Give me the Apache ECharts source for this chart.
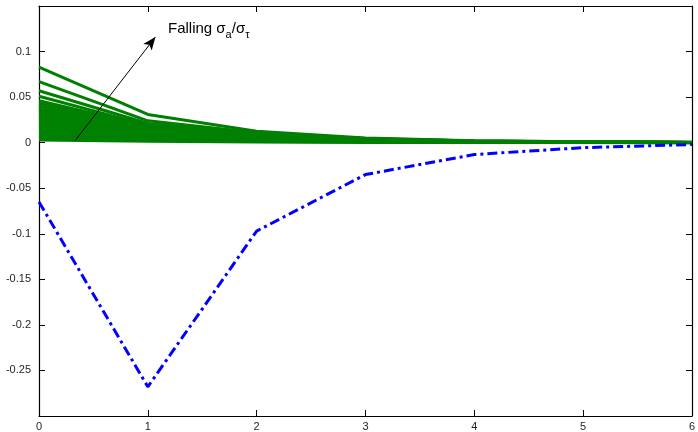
<!DOCTYPE html>
<html lang="en">
<head>
    <meta charset="UTF-8">
    <title>Impulse responses</title>
    <script src="https://cdn.jsdelivr.net/npm/echarts@6/dist/echarts.min.js"></script>
    <style>
        html, body { margin: 0; padding: 0; background: #fff; }
        #chart { width: 698px; height: 432px; }
    </style>
</head>
<body>
<div id="chart"></div>
<script>
    // horizon (x axis)
    var horizon = [0, 1, 2, 3, 4, 5, 6];

    // blue dash-dot response
    var blueValues = [-0.065, -0.268, -0.097, -0.035, -0.013, -0.0055, -0.002];

    // green family of responses, one row per sigma_a / sigma_tau value
    var greenValues = [
        [0.083, 0.031, 0.0125, 0.0050, 0.0020, 0.0010, 0.0004],
        [0.067, 0.024, 0.0110, 0.0045, 0.0019, 0.0009, 0.0004],
        [0.057, 0.021, 0.0100, 0.0042, 0.0018, 0.0008, 0.0003],
        [0.051, 0.019, 0.0093, 0.0040, 0.0017, 0.0008, 0.0003],
        [0.046, 0.018, 0.0088, 0.0038, 0.0016, 0.0007, 0.0003],
        [0.043, 0.017, 0.0084, 0.0036, 0.0015, 0.0007, 0.0003],
        [0.040, 0.016, 0.0080, 0.0034, 0.0014, 0.0006, 0.0003],
        [0.037, 0.015, 0.0076, 0.0032, 0.0014, 0.0006, 0.0003],
        [0.035, 0.014, 0.0072, 0.0031, 0.0013, 0.0006, 0.0002],
        [0.033, 0.013, 0.0068, 0.0030, 0.0013, 0.0005, 0.0002],
        [0.031, 0.0125, 0.0064, 0.0028, 0.0012, 0.0005, 0.0002],
        [0.029, 0.012, 0.0060, 0.0027, 0.0011, 0.0005, 0.0002],
        [0.027, 0.011, 0.0056, 0.0025, 0.0011, 0.0005, 0.0002],
        [0.025, 0.010, 0.0052, 0.0023, 0.0010, 0.0004, 0.0002],
        [0.023, 0.0095, 0.0048, 0.0021, 0.0009, 0.0004, 0.0002],
        [0.021, 0.0088, 0.0044, 0.0019, 0.0008, 0.0004, 0.0002],
        [0.019, 0.0080, 0.0040, 0.0017, 0.0008, 0.0003, 0.0001],
        [0.017, 0.0072, 0.0036, 0.0016, 0.0007, 0.0003, 0.0001],
        [0.015, 0.0064, 0.0032, 0.0014, 0.0006, 0.0003, 0.0001],
        [0.013, 0.0056, 0.0028, 0.0012, 0.0005, 0.0002, 0.0001],
        [0.011, 0.0048, 0.0024, 0.0010, 0.0005, 0.0002, 0.0001],
        [0.009, 0.0040, 0.0020, 0.0009, 0.0004, 0.0002, 0.0001],
        [0.007, 0.0032, 0.0016, 0.0007, 0.0003, 0.0001, 0.0001],
        [0.005, 0.0024, 0.0012, 0.0005, 0.0002, 0.0001, 0.0000],
        [0.003, 0.0016, 0.0008, 0.0004, 0.0002, 0.0001, 0.0000]
    ];

    // arrow annotation: start and end in data units
    var arrowStart = [0.33, 0.002];
    var arrowEnd = [1.07, 0.116];

    var yMin = -0.3, yMax = 0.15, yStep = 0.05;
    var fontName = 'Liberation Sans';

    function pairs(values) {
        return horizon.map(function (x, i) { return [x, values[i]]; });
    }

    function yLabel(v) {
        if (Math.abs(v - yMax) < 1e-9 || Math.abs(v - yMin) < 1e-9) return '';
        var r = Math.round(v * 100) / 100;
        return String(r);
    }

    var tickStyle = { show: true, inside: true, length: 6, lineStyle: { color: '#000', width: 1 } };
    var lineStyleAxis = { show: true, onZero: false, lineStyle: { color: '#000', width: 1.2 } };

    var series = greenValues.map(function (row) {
        return {
            type: 'line',
            data: pairs(row),
            symbol: 'none',
            silent: true,
            lineStyle: { color: '#008000', width: 3 },
            z: 2
        };
    });

    series.push({
        type: 'line',
        data: pairs(blueValues),
        symbol: 'none',
        silent: true,
        lineStyle: { color: '#0000ff', width: 3, type: [10, 4, 3, 4] },
        z: 3,
        markLine: {
            silent: true,
            symbol: ['none', 'arrow'],
            symbolSize: [8, 13],
            label: { show: false },
            lineStyle: { color: '#000', width: 1, type: 'solid' },
            data: [[{ coord: arrowStart }, { coord: arrowEnd }]]
        }
    });

    var myChart = echarts.init(document.getElementById('chart'));
    myChart.setOption({
        animation: false,
        backgroundColor: '#fff',
        grid: { left: 39, right: 5, top: 6, bottom: 15, containLabel: false },
        xAxis: [{
            type: 'value', min: 0, max: 6, interval: 1,
            axisLine: lineStyleAxis,
            axisTick: tickStyle,
            splitLine: { show: false },
            axisLabel: { color: '#262626', fontFamily: fontName, fontSize: 11, margin: 5 }
        }, {
            type: 'value', min: 0, max: 6, interval: 1, position: 'top',
            axisLine: lineStyleAxis,
            axisTick: tickStyle,
            splitLine: { show: false },
            axisLabel: { show: false }
        }],
        yAxis: [{
            type: 'value', min: yMin, max: yMax, interval: yStep,
            axisLine: lineStyleAxis,
            axisTick: tickStyle,
            splitLine: { show: false },
            axisLabel: { color: '#262626', fontFamily: fontName, fontSize: 11, margin: 8, formatter: yLabel }
        }, {
            type: 'value', min: yMin, max: yMax, interval: yStep, position: 'right',
            axisLine: lineStyleAxis,
            axisTick: tickStyle,
            splitLine: { show: false },
            axisLabel: { show: false }
        }],
        graphic: [{
            type: 'text',
            left: 168,
            top: 21,
            silent: true,
            style: {
                text: 'Falling σ{sub|a}/σ{sub|τ}',
                font: '15px ' + fontName,
                fill: '#000',
                rich: {
                    sub: { fontSize: 11, fontFamily: fontName, fill: '#000', verticalAlign: 'top', padding: [13, 0, 0, 0] }
                }
            }
        }],
        series: series
    });
</script>
</body>
</html>
